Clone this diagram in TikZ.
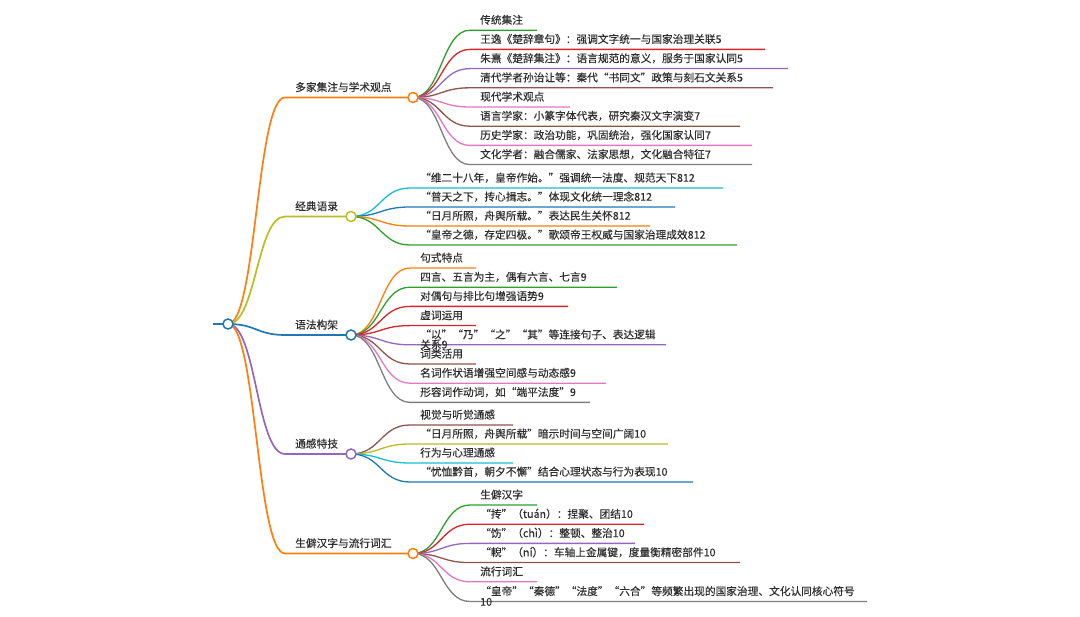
\documentclass[tikz,border=0pt]{standalone}
\usepackage{fontspec}
\setmainfont{Noto Sans CJK SC}[FakeBold=0.25]
\usetikzlibrary{calc}
\definecolor{cBlue}{HTML}{1F77B4}
\definecolor{cOrange}{HTML}{FF7F0E}
\definecolor{cGreen}{HTML}{2CA02C}
\definecolor{cRed}{HTML}{D62728}
\definecolor{cPurple}{HTML}{9467BD}
\definecolor{cBrown}{HTML}{8C564B}
\definecolor{cPink}{HTML}{E377C2}
\definecolor{cGray}{HTML}{7F7F7F}
\definecolor{cOlive}{HTML}{BCBD22}
\definecolor{cCyan}{HTML}{17BECF}
\definecolor{textgray}{HTML}{2E2E2E}
\tikzset{
  txt/.style={anchor=base west, inner sep=0pt, text=textgray, font=\fontsize{10.7}{13}\selectfont},
  lvlone/.style={line width=1.7pt},
  lf/.style={line width=1.3pt},
  dot/.style={circle, draw, fill=white, line width=1.5pt, minimum size=10pt, inner sep=0pt},
}
% level-one branch: parent, id, y, xstart, circle x, colour, text
\newcommand\mmbranch[7]{%
  \coordinate (#2s) at (#4,#3);
  \coordinate (#2c) at (#5,#3);
  \draw[lvlone,#6] let \p1=(#1), \p2=(#2s) in (\p1) .. controls ({0.5*\x1+0.5*\x2},\y1) and ({0.5*\x1+0.5*\x2},\y2) .. (\p2) -- (#2c);
  \node[txt] (#2t) at ($(#2s)+(10,-6.3)$) {#7};
}
% leaf: parent, id, y, xstart, xend, colour, text
\newcommand\mmleaf[7]{%
  \coordinate (#2s) at (#4,#3);
  \coordinate (#2e) at (#5,#3);
  \draw[lf,#6] let \p1=(#1), \p2=(#2s) in (\p1) .. controls ({0.5*\x1+0.5*\x2},\y1) and ({0.5*\x1+0.5*\x2},\y2) .. (\p2) -- (#2e);
  \node[txt] (#2t) at ($(#2s)+(10,-6.3)$) {#7};
}
\begin{document}
\begin{tikzpicture}[x=1pt,y=-1pt]
\fill[white] (0,0) rectangle (1080,617);
\useasboundingbox (0,0) rectangle (1080,617);

\coordinate (root) at (228,324);
\coordinate (rootin) at (213,324);
\draw[lvlone,cBlue] (rootin) -- (root);

% level one
\mmbranch{root}{ba}{97.5}{285}{413}{cOrange}{多家集注与学术观点}
\mmbranch{root}{bb}{216.5}{285}{351}{cOlive}{经典语录}
\mmbranch{root}{bc}{335}{285}{351}{cBlue}{语法构架}
\mmbranch{root}{bd}{454}{285}{351}{cPurple}{通感特技}
\mmbranch{root}{be}{553.5}{285}{413}{cOrange}{生僻汉字与流行词汇}

% branch a
\mmleaf{bac}{aa}{30.2}{470}{537}{cGreen}{传统集注}
\mmleaf{bac}{ab}{49.4}{470}{765}{cRed}{王逸《楚辞章句》：强调文字统一与国家治理关联5}
\mmleaf{bac}{ac}{68.6}{470}{788}{cPurple}{朱熹《楚辞集注》：语言规范的意义，服务于国家认同5}
\mmleaf{bac}{ad}{87.8}{470}{773}{cBrown}{清代学者孙诒让等：秦代“书同文”政策与刻石文关系5}
\mmleaf{bac}{ae}{107}{470}{570}{cPink}{现代学术观点}
\mmleaf{bac}{af}{126.2}{470}{740}{cBrown}{语言学家：小篆字体代表，研究秦汉文字演变7}
\mmleaf{bac}{ag}{145.4}{470}{752}{cPink}{历史学家：政治功能，巩固统治，强化国家认同7}
\mmleaf{bac}{ah}{164.6}{470}{752}{cGray}{文化学者：融合儒家、法家思想，文化融合特征7}

% branch b
\mmleaf{bbc}{ba1}{188}{410}{723}{cCyan}{“维二十八年，皇帝作始。”强调统一法度、规范天下812}
\mmleaf{bbc}{bb1}{207}{410}{675}{cBlue}{“普天之下，抟心揖志。”体现文化统一理念812}
\mmleaf{bbc}{bc1}{226}{410}{650}{cOrange}{“日月所照，舟舆所载。”表达民生关怀812}
\mmleaf{bbc}{bd1}{245}{410}{737}{cGreen}{“皇帝之德，存定四极。”歌颂帝王权威与国家治理成效812}

% branch c
\mmleaf{bcc}{ca}{268}{410}{476}{cOrange}{句式特点}
\mmleaf{bcc}{cb}{287.2}{410}{617}{cGreen}{四言、五言为主，偶有六言、七言9}
\mmleaf{bcc}{cc}{306.4}{410}{568}{cRed}{对偶句与排比句增强语势9}
\mmleaf{bcc}{cd}{325.6}{410}{476}{cRed}{虚词运用}
\mmleaf{bcc}{ce}{344.8}{410}{666}{cPurple}{“以”“乃”“之”“其”等连接句子、表达逻辑}
\node[txt] (cet2) at ($(ces)+(10,3.7)$) {关系9};
\mmleaf{bcc}{cf}{364}{410}{476}{cBrown}{词类活用}
\mmleaf{bcc}{cg}{383.2}{410}{606}{cPink}{名词作状语增强空间感与动态感9}
\mmleaf{bcc}{ch}{402.4}{410}{590}{cGray}{形容词作动词，如“端平法度”9}

% branch d
\mmleaf{bdc}{da}{425}{410}{513}{cBrown}{视觉与听觉通感}
\mmleaf{bdc}{db}{444}{410}{668}{cOlive}{“日月所照，舟舆所载”暗示时间与空间广阔10}
\mmleaf{bdc}{dc}{463}{410}{513}{cCyan}{行为与心理通感}
\mmleaf{bdc}{dd}{482}{410}{693}{cBlue}{“忧恤黔首，朝夕不懈”结合心理状态与行为表现10}

% branch e
\mmleaf{bec}{ea}{505}{470}{537}{cGreen}{生僻汉字}
\mmleaf{bec}{eb}{524.2}{470}{644}{cRed}{“抟”（tuán）：捏聚、团结10}
\mmleaf{bec}{ec}{543.4}{470}{635}{cPurple}{“饬”（chì）：整顿、整治10}
\mmleaf{bec}{ed}{562.6}{470}{740}{cBrown}{“輗”（ní）：车轴上金属键，度量衡精密部件10}
\mmleaf{bec}{ee}{581.8}{470}{537}{cPink}{流行词汇}
\mmleaf{bec}{ef}{601.5}{470}{867}{cGray}{“皇帝”“秦德”“法度”“六合”等频繁出现的国家治理、文化认同核心符号}
\node[txt] (eft2) at ($(efs)+(10,4.2)$) {10};

% circles on top
\node[dot,draw=cBlue] (rootdot) at (root) {};
\node[dot,draw=cOrange] (badot) at (bac) {};
\node[dot,draw=cOlive] (bbdot) at (bbc) {};
\node[dot,draw=cBlue] (bcdot) at (bcc) {};
\node[dot,draw=cPurple] (bddot) at (bdc) {};
\node[dot,draw=cOrange] (bedot) at (bec) {};
\end{tikzpicture}
\end{document}
